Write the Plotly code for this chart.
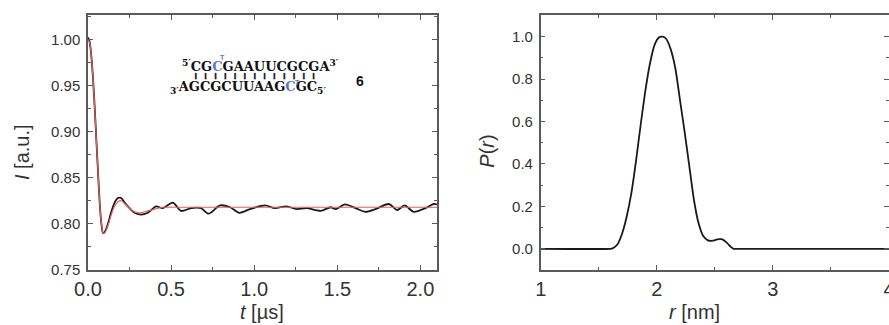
import plotly.graph_objects as go

# ---------------- data ----------------
t_exp = [0.0, 0.01, 0.02, 0.03, 0.04, 0.05, 0.06, 0.07, 0.08, 0.09, 0.10, 0.12, 0.14,
         0.16, 0.18, 0.20, 0.22, 0.25, 0.28, 0.32, 0.36, 0.41, 0.45, 0.51, 0.56, 0.62,
         0.68, 0.725, 0.795, 0.855, 0.91, 0.975, 1.065, 1.125, 1.195, 1.255, 1.315,
         1.40, 1.46, 1.49, 1.545, 1.61, 1.67, 1.73, 1.81, 1.86, 1.905, 1.96, 2.03,
         2.08, 2.10]
I_exp = [1.002, 0.997, 0.982, 0.958, 0.927, 0.892, 0.857, 0.824, 0.801, 0.790, 0.791,
         0.800, 0.813, 0.823, 0.828, 0.828, 0.823, 0.817, 0.812, 0.810, 0.812, 0.819,
         0.817, 0.823, 0.814, 0.817, 0.817, 0.811, 0.820, 0.818, 0.812, 0.816, 0.820,
         0.817, 0.819, 0.816, 0.817, 0.814, 0.818, 0.816, 0.821, 0.817, 0.813, 0.816,
         0.8215, 0.815, 0.820, 0.813, 0.817, 0.8215, 0.821]

t_fit = [0.0, 0.01, 0.02, 0.03, 0.04, 0.05, 0.06, 0.07, 0.08, 0.09, 0.10, 0.12, 0.14,
         0.16, 0.18, 0.20, 0.22, 0.25, 0.28, 0.32, 0.36, 0.40, 0.45, 0.50, 2.10]
I_fit = [1.000, 0.996, 0.982, 0.958, 0.927, 0.892, 0.857, 0.824, 0.801, 0.790, 0.790,
         0.798, 0.810, 0.819, 0.824, 0.825, 0.822, 0.817, 0.813, 0.812, 0.814, 0.816,
         0.818, 0.818, 0.818]

r_nm = [1.0, 1.60, 1.62, 1.66, 1.70, 1.74, 1.78, 1.82, 1.86, 1.90, 1.94, 1.98, 2.02,
        2.05, 2.08, 2.12, 2.16, 2.20, 2.24, 2.28, 2.32, 2.36, 2.40, 2.44, 2.48, 2.52,
        2.56, 2.60, 2.64, 2.66, 2.70, 4.0]
P_r = [0.0, 0.0, 0.002, 0.02, 0.07, 0.15, 0.26, 0.41, 0.58, 0.74, 0.87, 0.96, 0.997,
       1.0, 0.99, 0.94, 0.85, 0.70, 0.55, 0.39, 0.23, 0.12, 0.06, 0.04, 0.038, 0.044,
       0.045, 0.03, 0.008, 0.0, 0.0, 0.0]

left_xticks = [0.0, 0.5, 1.0, 1.5, 2.0]
left_yticks = [0.75, 0.80, 0.85, 0.90, 0.95, 1.00]
right_xticks = [1, 2, 3, 4]
right_yticks = [0.0, 0.2, 0.4, 0.6, 0.8, 1.0]

strand_top = "CGCGAAUUCGCGA"
strand_bottom = "AGCGCUUAAGCGC"
label_top_idx = 2       # labelled C in top strand
label_bottom_idx = 10   # labelled C in bottom strand
n_pairs = 13
compound_no = "6"

# ---------------- figure ----------------
W, H = 889, 325
ML, MR, MT, MB = 0, 0, 15, 55
AX = "#5a5a5a"
TXT = "#333333"
FONT = "Liberation Sans, Arial, sans-serif"
SERIF = "DejaVu Serif, serif"
BLUE = "#5a78c8"

fig = go.Figure()
fig.add_trace(go.Scatter(x=t_exp, y=I_exp, mode="lines", xaxis="x", yaxis="y",
                         line=dict(color="#1a1a1a", width=1.8, shape="spline", smoothing=0.8),
                         showlegend=False))
fig.add_trace(go.Scatter(x=t_fit, y=I_fit, mode="lines", xaxis="x", yaxis="y",
                         line=dict(color="#e06060", width=1.2, shape="spline", smoothing=0.8),
                         showlegend=False))
fig.add_trace(go.Scatter(x=r_nm, y=P_r, mode="lines", xaxis="x2", yaxis="y2",
                         line=dict(color="#1a1a1a", width=1.8, shape="spline", smoothing=0.6),
                         showlegend=False))


def px2x(px):
    return (px - ML) / (W - ML - MR)


def ax_common(**kw):
    d = dict(showline=True, linecolor=AX, linewidth=1.5, mirror="allticks",
             ticks="inside", ticklen=5, tickwidth=1.2, tickcolor=AX,
             showgrid=False, zeroline=False, automargin=False,
             tickfont=dict(family=FONT, color=TXT))
    d.update(kw)
    return d


fig.update_layout(
    template="none",
    width=W, height=H, margin=dict(l=ML, r=MR, t=MT, b=MB, pad=0, autoexpand=False),
    paper_bgcolor="white", plot_bgcolor="white",
    xaxis=ax_common(domain=[px2x(88), px2x(437)], range=[0, 2.1],
                    tickvals=left_xticks, tickformat=".1f",
                    tickfont=dict(family=FONT, color=TXT, size=20),
                    minor=dict(ticks="inside", ticklen=3, dtick=0.25, tick0=0, tickcolor=AX),
                    anchor="y"),
    yaxis=ax_common(domain=[0, 1], range=[0.75, 1.0263],
                    tickvals=left_yticks, tickformat=".2f",
                    tickfont=dict(family=FONT, color=TXT, size=15),
                    minor=dict(ticks="inside", ticklen=3, dtick=0.025, tick0=0.75, tickcolor=AX),
                    anchor="x", ticklabelstandoff=3),
    xaxis2=ax_common(domain=[px2x(540.7), 1.0], range=[1, 4.0],
                     tickvals=right_xticks, ticklabeloverflow="allow",
                     tickfont=dict(family=FONT, color=TXT, size=20),
                     minor=dict(ticks="inside", ticklen=3, dtick=0.5, tick0=1, tickcolor=AX),
                     anchor="y2"),
    yaxis2=ax_common(domain=[0, 1], range=[-0.1, 1.102],
                     tickvals=right_yticks, tickformat=".1f",
                     tickfont=dict(family=FONT, color=TXT, size=15),
                     minor=dict(ticks="inside", ticklen=3, dtick=0.1, tick0=0, tickcolor=AX),
                     anchor="x2", ticklabelstandoff=3),
)


# reference pixel -> left-panel data coords (for placing the inset text)
def tx(px):
    return (px - 88) / 166.0


def iy(py):
    return 1 - (py - 39.3) / 922.7


def py_paper(py):
    return (H - MB - py) / (H - MT - MB)


def strand_html(seq, idx):
    return (seq[:idx] + '<span style="color:%s">%s</span>' % (BLUE, seq[idx])
            + seq[idx + 1:])


anns = []
anns.append(dict(x=tx(260.5), y=iy(65.5), xref="x", yref="y", showarrow=False,
                 xanchor="center", yanchor="middle",
                 text="<b><sup>5′</sup>" + strand_html(strand_top, label_top_idx) + "<sup>3′</sup></b>",
                 font=dict(family=SERIF, size=13, color="#111")))
anns.append(dict(x=tx(248), y=iy(87.8), xref="x", yref="y", showarrow=False,
                 xanchor="center", yanchor="middle",
                 text="<b><sub>3′</sub>" + strand_html(strand_bottom, label_bottom_idx) + "<sub>5′</sub></b>",
                 font=dict(family=SERIF, size=13, color="#111")))
bars = ("\u258C" + "\u00a0\u00a0") * (n_pairs - 1) + "\u258C"
anns.append(dict(x=tx(255), y=iy(76.0), xref="x", yref="y", showarrow=False,
                 xanchor="center", yanchor="middle",
                 text=bars,
                 font=dict(family="DejaVu Sans Mono, monospace", size=5.45, color="#222")))
for px, py in [(222, 57.5), (297, 82.5)]:
    anns.append(dict(x=tx(px), y=iy(py), xref="x", yref="y", showarrow=False,
                     xanchor="center", yanchor="middle",
                     text="<b>T</b>", font=dict(family=FONT, size=7, color=BLUE)))
anns.append(dict(x=tx(360), y=iy(81.5), xref="x", yref="y", showarrow=False,
                 xanchor="center", yanchor="middle",
                 text="<b>%s</b>" % compound_no, font=dict(family=FONT, size=14, color="#111")))

# axis titles
anns.append(dict(x=px2x(22), y=py_paper(152), xref="paper", yref="paper", showarrow=False,
                 xanchor="center", yanchor="middle",
                 text="<i>I</i> [a.u.]", textangle=-90,
                 font=dict(family=FONT, size=20, color=TXT)))
anns.append(dict(x=px2x(262), y=py_paper(312), xref="paper", yref="paper", showarrow=False,
                 xanchor="center", yanchor="middle",
                 text="<i>t</i> [µs]", font=dict(family=FONT, size=20, color=TXT)))
anns.append(dict(x=px2x(486.7), y=py_paper(151), xref="paper", yref="paper", showarrow=False,
                 xanchor="center", yanchor="middle",
                 text="<i>P</i>(<i>r</i>)", textangle=-90,
                 font=dict(family=FONT, size=20, color=TXT)))
anns.append(dict(x=px2x(694), y=py_paper(312), xref="paper", yref="paper", showarrow=False,
                 xanchor="center", yanchor="middle",
                 text="<i>r</i> [nm]", font=dict(family=FONT, size=20, color=TXT)))

fig.update_layout(annotations=anns)
fig.write_html("out.html")
